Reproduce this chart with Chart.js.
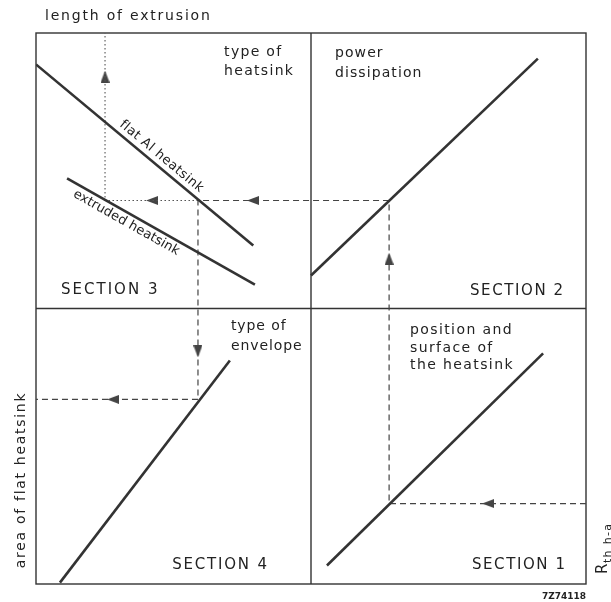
<!DOCTYPE html>
<html>
<head>
<meta charset="utf-8">
<script src="https://cdn.jsdelivr.net/npm/chart.js@4.4.1/dist/chart.umd.min.js"></script>
<style>
  html, body { margin: 0; padding: 0; background: #fff; }
</style>
</head>
<body>
<canvas id="nomogram" width="611" height="602"></canvas>
<script>
// nomogram units: -10..10 both ways, the four sections meet at (0, 0)
const flatAlHeatsink = [[-10, 8.86], [-2.1, 2.29]];
const extrudedHeatsink = [[-8.87, 4.72], [-2.04, 0.87]];
const powerDissipation = [[0, 1.2], [8.25, 9.07]];
const typeOfEnvelope = [[-9.13, -9.95], [-2.95, -1.89]];
const positionSurface = [[0.58, -9.33], [8.44, -1.63]];

// worked example: Rth h-a -> section 1 -> 2 -> 3 -> 4 -> area
const examplePath = [[10, -7.08], [2.84, -7.08], [2.84, 3.92], [-4.11, 3.92], [-4.11, -3.3], [-10, -3.3]];
// branch to the extruded heatsink -> length of extrusion
const extrusionPath = [[-4.11, 3.92], [-7.49, 3.92], [-7.49, 10]];

// arrow heads: x, y, direction (deg, 0 = up)
const arrowHeads = [
  [6.44, -7.08, 270],
  [2.84, 1.81, 0],
  [-2.11, 3.92, 270],
  [-4.11, -1.56, 180],
  [-7.2, -3.3, 270],
  [-5.78, 3.92, 270],
  [-7.49, 8.42, 0],
];

const ink = '#333';
const font = '"DejaVu Sans", sans-serif';

const toPoints = (pairs) => pairs.map(([x, y]) => ({ x, y }));

const lineSet = (pairs, extra) =>
  Object.assign(
    {
      data: toPoints(pairs),
      showLine: true,
      borderColor: ink,
      borderWidth: 2.6,
      pointRadius: 0,
      tension: 0,
      fill: false,
    },
    extra
  );

// little elongated arrow head, pointing up
const arrowImg = document.createElement('canvas');
arrowImg.width = 9;
arrowImg.height = 12;
{
  const c = arrowImg.getContext('2d');
  c.fillStyle = '#444';
  c.beginPath();
  c.moveTo(4.5, 0);
  c.lineTo(9, 12);
  c.lineTo(0, 12);
  c.closePath();
  c.fill();
}

const frame = {
  id: 'frame',
  beforeDatasetsDraw(chart) {
    const { ctx, chartArea: a, scales } = chart;
    const x0 = scales.x.getPixelForValue(0);
    const y0 = scales.y.getPixelForValue(0);
    ctx.save();
    ctx.strokeStyle = ink;
    ctx.lineWidth = 1.4;
    ctx.strokeRect(a.left, a.top, a.right - a.left, a.bottom - a.top);
    ctx.beginPath();
    ctx.moveTo(x0, a.top);
    ctx.lineTo(x0, a.bottom);
    ctx.moveTo(a.left, y0);
    ctx.lineTo(a.right, y0);
    ctx.stroke();
    ctx.restore();
  },
};

const texts = {
  id: 'texts',
  afterDatasetsDraw(chart) {
    const { ctx, scales } = chart;
    const px = (x) => scales.x.getPixelForValue(x);
    const py = (y) => scales.y.getPixelForValue(y);

    const block = (lines, x, y, size, spacing, gap) => {
      ctx.font = `${size}px ${font}`;
      ctx.letterSpacing = spacing + 'px';
      ctx.textAlign = 'left';
      ctx.textBaseline = 'middle';
      lines.forEach((l, i) => ctx.fillText(l, px(x), py(y) + i * gap));
    };

    const alongLine = (pairs, text, t, offset, size, spacing) => {
      const [a, b] = pairs.map(([x, y]) => [px(x), py(y)]);
      const ang = Math.atan2(b[1] - a[1], b[0] - a[0]);
      ctx.save();
      ctx.translate(a[0] + (b[0] - a[0]) * t, a[1] + (b[1] - a[1]) * t);
      ctx.rotate(ang);
      ctx.font = `${size}px ${font}`;
      ctx.letterSpacing = spacing + 'px';
      ctx.textAlign = 'center';
      ctx.textBaseline = offset < 0 ? 'bottom' : 'top';
      ctx.fillText(text, 0, offset);
      ctx.restore();
    };

    ctx.save();
    ctx.fillStyle = '#222';

    block(['type of', 'heatsink'], -3.16, 9.29, 14, 1.3, 19);
    block(['power', 'dissipation'], 0.87, 9.26, 14, 1.1, 20);
    block(['type of', 'envelope'], -2.91, -0.65, 14, 0.9, 20);
    block(['position and', 'surface of', 'the heatsink'], 3.6, -0.8, 14, 1.4, 17.5);

    block(['SECTION 3'], -9.09, 0.65, 15, 2, 0);
    block(['SECTION 2'], 5.78, 0.62, 15, 1.6, 0);
    block(['SECTION 4'], -5.05, -9.33, 15, 1.8, 0);
    block(['SECTION 1'], 5.85, -9.33, 15, 1.6, 0);

    alongLine(flatAlHeatsink, 'flat Al heatsink', 0.55, -3, 13, 0.5);
    alongLine(extrudedHeatsink, 'extruded heatsink', 0.34, 3, 13, 0.1);

    // outside the frame
    ctx.font = `14px ${font}`;
    ctx.letterSpacing = '1.8px';
    ctx.textAlign = 'left';
    ctx.textBaseline = 'alphabetic';
    ctx.fillText('length of extrusion', 45, 20);

    ctx.save();
    ctx.translate(25, 480);
    ctx.rotate(-Math.PI / 2);
    ctx.textAlign = 'center';
    ctx.letterSpacing = '1.7px';
    ctx.fillText('area of flat heatsink', 0, 0);
    ctx.restore();

    ctx.save();
    ctx.translate(607, 574);
    ctx.rotate(-Math.PI / 2);
    ctx.textAlign = 'left';
    ctx.letterSpacing = '0px';
    ctx.font = `15px ${font}`;
    ctx.fillText('R', 0, 0);
    ctx.font = `11px ${font}`;
    ctx.letterSpacing = '1.3px';
    ctx.fillText('th h-a', 11, 4);
    ctx.restore();

    ctx.font = `bold 9px ${font}`;
    ctx.letterSpacing = '0px';
    ctx.fillText('7Z74118', 542, 599);
    ctx.restore();
  },
};

new Chart(document.getElementById('nomogram'), {
  type: 'scatter',
  data: {
    datasets: [
      lineSet(flatAlHeatsink),
      lineSet(extrudedHeatsink),
      lineSet(powerDissipation),
      lineSet(typeOfEnvelope),
      lineSet(positionSurface),
      lineSet(examplePath, { borderWidth: 1.2, borderDash: [6, 4], borderColor: '#444' }),
      lineSet(extrusionPath, { borderWidth: 1.1, borderDash: [1.5, 2.5], borderColor: '#555' }),
      {
        data: arrowHeads.map(([x, y]) => ({ x, y })),
        showLine: false,
        pointStyle: arrowImg,
        pointRotation: arrowHeads.map((a) => a[2]),
        pointRadius: 5,
      },
    ],
  },
  options: {
    responsive: false,
    devicePixelRatio: 1,
    animation: false,
    layout: { padding: { left: 36, top: 33, right: 25, bottom: 18 } },
    plugins: { legend: { display: false }, tooltip: { enabled: false } },
    scales: {
      x: { type: 'linear', min: -10, max: 10, display: false },
      y: { type: 'linear', min: -10, max: 10, display: false },
    },
  },
  plugins: [frame, texts],
});
</script>
</body>
</html>
